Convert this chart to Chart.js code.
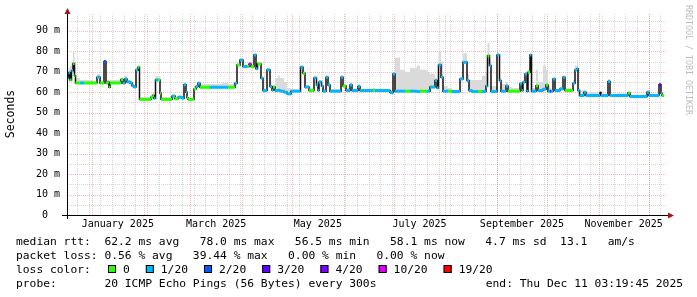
<!DOCTYPE html>
<html>
<head>
<meta charset="utf-8">
<script src="https://cdn.jsdelivr.net/npm/chart.js@4"></script>
<style>
html, body { margin: 0; padding: 0; background: #fff; }
canvas { display: block; }
</style>
</head>
<body>
<canvas id="chart" width="697" height="297"></canvas>
<script>
// x values are days since the start of the graph (2024-12-17), 360 days shown
const START = Date.UTC(2024, 11, 17);
const SPAN_DAYS = 360;
const END_DAY = 358.2;

const sampleDays = [
  0, 0.9, 1.8, 2.7, 3.6, 4.5, 5.1, 7.8, 10.2, 15,
  18, 19.8, 22.2, 23.4, 24.6, 25.2, 25.8, 32.4, 33.6, 34.8,
  36, 37.8, 39, 40.2, 41.4, 42.6, 43.5, 50.4, 51.6, 52.2,
  53.1, 54.6, 55.8, 56.4, 63, 64.2, 64.8, 66.6, 69, 70.2,
  71.4, 72, 72.6, 76.2, 77.4, 78.6, 79.8, 85.8, 93, 96.6,
  100.8, 102, 103.8, 105.6, 108, 109.2, 110.4, 112.2, 113.4, 114.3,
  116.4, 117.6, 120, 121.8, 123, 123.6, 124.8, 126.6, 127.8, 130.2,
  132, 134.4, 140.1, 141.6, 142.8, 145.2, 148.2, 149.7, 150.6, 151.2,
  152.7, 153.6, 155.4, 156.6, 157.8, 164.4, 165.6, 167.4, 169.8, 171,
  174.6, 175.8, 183.6, 184.8, 193.8, 195.6, 196.8, 199.8, 202.8, 205.8,
  210, 211.8, 216, 217.8, 220.8, 222, 222.9, 224.4, 225.6, 228.6,
  231, 235.8, 237.6, 240, 241.2, 243, 246.6, 249, 251.4, 252.3,
  253.5, 254.4, 258, 259.5, 260.4, 263.4, 264.6, 267, 271.8, 273,
  273.6, 274.8, 276, 276.6, 277.8, 278.7, 281.4, 282.6, 285.6, 287.4,
  288.6, 289.8, 290.4, 291.6, 292.8, 295.8, 297.6, 298.8, 303.6, 304.8,
  306, 306.6, 307.5, 310.2, 311.4, 319.8, 320.4, 324.6, 325.8, 330,
  336.6, 337.8, 348, 349.2, 355.2, 356.4, 357
];

// median rtt in ms
const medianMs = [
  67, 69.5, 66, 70.5, 74, 68, 64.5, 64.5, 64.5, 64.5,
  67.3, 64.5, 75, 64.5, 65, 62.4, 64.5, 66.2, 64.5, 66.5,
  65, 64.5, 63.2, 62.5, 70.9, 72.2, 56.5, 57.5, 58.4, 57,
  66, 66, 59.5, 56.5, 58, 58.2, 56.8, 57.5, 57, 63.7,
  60, 57.3, 56.5, 61.6, 62.8, 64.4, 62.4, 62.4, 62.4, 62.4,
  64.4, 73.3, 75.7, 72.5, 72.5, 73.8, 72.5, 78.2, 71.4, 73.8,
  66.8, 60.8, 70.9, 62.8, 61, 62.5, 60.8, 61, 60.5, 60,
  59.2, 60.5, 72.2, 69.2, 62.5, 60.8, 67, 63.5, 60.8, 65,
  63, 60.5, 67.3, 63.5, 60.5, 67.3, 63, 60.8, 63.5, 60.8,
  62.8, 60.8, 61, 60.8, 59.8, 68.9, 60.5, 60.5, 60.5, 60.5,
  60.3, 60.5, 60.5, 62.5, 65.7, 62, 73.3, 67.3, 60.5, 60.5,
  60.3, 66.5, 74.6, 65.7, 60.8, 60.3, 60.3, 60.3, 63, 77.8,
  73, 60.3, 78.2, 65.7, 60.5, 63, 60.5, 60.5, 64.1, 60.8,
  64.9, 68.9, 60.5, 69.7, 78.2, 60.5, 63.2, 60.8, 61.5, 63.5,
  60.5, 60.5, 60.5, 66.5, 60.8, 61.6, 67.3, 60.8, 64.4, 70.9,
  71.5, 60.8, 58.4, 60, 58.4, 59.8, 58.4, 65.2, 58.4, 58.4,
  59.6, 57.9, 60, 58.4, 63.7, 59.5, 58.4
];

// top of the smoke (slowest pings) in ms
const smokeMaxMs = [
  70, 72, 73, 74, 80, 72, 67, 66, 66, 65.5,
  69, 65.5, 75.5, 66, 66, 63, 66, 67, 65.5, 68,
  66, 65.5, 64, 63.5, 72, 73, 57.5, 59, 59.5, 58,
  68, 67.5, 60.5, 57.5, 59, 59.5, 57.5, 58.5, 58, 64.5,
  61, 58, 57, 62.5, 63.5, 65, 64, 64, 64.5, 64,
  65, 74, 76.5, 73, 73, 74.5, 73, 78.5, 72, 74.5,
  67.5, 61.5, 72, 63.5, 62, 63, 67, 68, 67, 65,
  62, 61.5, 73, 70, 63.5, 61.5, 67.5, 64, 61.5, 66,
  64, 61.5, 68, 64.5, 61.5, 68, 64, 62, 65, 61.5,
  64, 61.5, 62, 61.5, 61, 70, 77, 71, 70, 72,
  73, 71, 70, 69, 67, 66, 80, 75, 63, 62,
  61, 67, 79, 69, 66, 66, 66, 68, 70, 84,
  76, 63, 78.5, 67, 64, 65, 62.5, 62, 65, 61.5,
  66, 70, 61.5, 70.5, 78.5, 62, 71, 65, 73, 71,
  63, 62, 61.5, 67, 61.5, 62.5, 68, 62, 66, 73,
  75.5, 62, 61, 61, 60, 60.5, 59, 66.5, 59, 59.5,
  60.5, 58.5, 61, 59, 64.5, 60, 59
];

// index into lossLabels / lossColors
const lossLevel = [
  1, 1, 0, 1, 0, 0, 0, 1, 0, 0,
  1, 0, 2, 0, 0, 0, 0, 0, 1, 1,
  1, 1, 1, 1, 1, 0, 0, 0, 0, 1,
  1, 0, 0, 0, 1, 0, 0, 1, 1, 1,
  1, 0, 0, 0, 1, 1, 0, 1, 1, 0,
  1, 0, 1, 1, 0, 5, 0, 1, 1, 0,
  1, 1, 1, 1, 1, 0, 1, 1, 1, 1,
  1, 1, 1, 0, 1, 0, 1, 1, 1, 1,
  1, 1, 1, 1, 1, 1, 0, 1, 1, 1,
  1, 1, 0, 1, 1, 1, 1, 1, 0, 1,
  1, 0, 1, 1, 1, 1, 1, 1, 1, 0,
  1, 1, 1, 1, 1, 1, 0, 1, 1, 0,
  1, 1, 1, 1, 1, 1, 0, 0, 1, 1,
  1, 1, 1, 0, 1, 1, 0, 1, 1, 0,
  1, 3, 1, 1, 1, 1, 1, 0, 1, 1,
  1, 1, 1, 1, 1, 0, 1, 1, 1, 1,
  0, 1, 1, 1, 3, 1, 0
];

const lossLabels = ['0', '1/20', '2/20', '3/20', '4/20', '10/20', '19/20'];
const lossColors = ['#26ff00', '#00b8ff', '#0059ff', '#5e00ff', '#7e00ff', '#dd00ff', '#ff0000'];

const yTickValues = [0, 10, 20, 30, 40, 50, 60, 70, 80, 90];
const yTickLabels = ['0  ', '10 m', '20 m', '30 m', '40 m', '50 m', '60 m', '70 m', '80 m', '90 m'];
const monthLabels = ['January 2025', 'March 2025', 'May 2025', 'July 2025', 'September 2025', 'November 2025'];
const labelMonths = [0, 2, 4, 6, 8, 10];

const statsLines = [
  'median rtt:  62.2 ms avg   78.0 ms max   56.5 ms min   58.1 ms now   4.7 ms sd  13.1   am/s',
  'packet loss: 0.56 % avg   39.44 % max   0.00 % min   0.00 % now'
];
const probeText = 'probe:       20 ICMP Echo Pings (56 Bytes) every 300s';
const endText = 'end: Thu Dec 11 03:19:45 2025';

const MONO = 'DejaVu Sans Mono';
const dayOf = (y, m, d) => (Date.UTC(y, m, d) - START) / 864e5;

// step lines: each sample holds until the next one
const stepPts = (vals) => sampleDays.map((d, i) => ({ x: d, y: vals[i] }))
  .concat([{ x: END_DAY, y: vals[vals.length - 1] }]);

// colored median pieces, one horizontal piece per sample
const colorPts = [];
const colorIdx = [];
sampleDays.forEach((d, i) => {
  const next = i + 1 < sampleDays.length ? sampleDays[i + 1] : END_DAY;
  colorPts.push({ x: d, y: medianMs[i] }, { x: next, y: medianMs[i] }, { x: next, y: null });
  colorIdx.push(lossLevel[i], lossLevel[i], lossLevel[i]);
});

const gridPlugin = {
  id: 'rrdGrid',
  beforeDatasetsDraw(chart) {
    const { ctx, chartArea: a, scales: { x, y } } = chart;
    ctx.save();
    ctx.lineWidth = 1;
    ctx.setLineDash([1, 1]);
    const vline = (d, color) => {
      const px = Math.round(x.getPixelForValue(d)) + 0.5;
      ctx.strokeStyle = color;
      ctx.beginPath(); ctx.moveTo(px, a.bottom); ctx.lineTo(px, a.top); ctx.stroke();
    };
    const hline = (v, color) => {
      const py = Math.round(y.getPixelForValue(v)) + 0.5;
      ctx.strokeStyle = color;
      ctx.beginPath(); ctx.moveTo(a.left, py); ctx.lineTo(a.right, py); ctx.stroke();
    };
    const minor = 'rgba(150,150,150,0.38)';
    const major = 'rgba(235,70,70,0.38)';
    // weekly lines (mondays)
    for (let d = dayOf(2024, 11, 23); d < SPAN_DAYS; d += 7) vline(d, minor);
    for (let v = 5; v < 98; v += 10) hline(v, minor);
    for (let m = 0; m < 12; m++) vline(dayOf(2025, m, 1), major);
    yTickValues.slice(1).forEach(v => hline(v, major));
    ctx.restore();
  }
};

const framePlugin = {
  id: 'rrdFrame',
  afterDraw(chart) {
    const { ctx, chartArea: a } = chart;
    const bx = a.left + 0.5, by = a.bottom + 0.5;
    ctx.save();
    ctx.strokeStyle = '#000';
    ctx.lineWidth = 1;
    ctx.beginPath();
    ctx.moveTo(a.left - 5, by); ctx.lineTo(a.right + 1, by);
    ctx.moveTo(bx, a.bottom + 4); ctx.lineTo(bx, a.top);
    ctx.stroke();
    ctx.fillStyle = '#a01818';
    ctx.beginPath();
    ctx.moveTo(a.right + 7, by); ctx.lineTo(a.right + 1, by - 3); ctx.lineTo(a.right + 1, by + 3);
    ctx.closePath(); ctx.fill();
    ctx.beginPath();
    ctx.moveTo(bx, a.top - 5); ctx.lineTo(bx - 3, a.top + 1); ctx.lineTo(bx + 3, a.top + 1);
    ctx.closePath(); ctx.fill();

    // watermark
    ctx.save();
    ctx.translate(688.5, 5);
    ctx.rotate(Math.PI / 2);
    ctx.font = '8.3px "' + MONO + '"';
    ctx.fillStyle = '#bdbdbd';
    ctx.textBaseline = 'middle';
    ctx.fillText('RRDTOOL / TOBI OETIKER', 0, 0);
    ctx.restore();

    // legend block
    ctx.font = '11.3px "' + MONO + '"';
    ctx.fillStyle = '#000';
    ctx.textBaseline = 'alphabetic';
    ctx.fillText(statsLines[0], 16, 245);
    ctx.fillText(statsLines[1], 16, 259);
    ctx.fillText('loss color:', 16, 273);
    let lx = 108;
    lossLabels.forEach((lab, i) => {
      ctx.fillStyle = lossColors[i];
      ctx.fillRect(lx, 265, 8, 8);
      ctx.strokeStyle = '#000';
      ctx.strokeRect(lx + 0.5, 265.5, 7, 7);
      ctx.fillStyle = '#000';
      ctx.fillText(lab, lx + 15, 273);
      lx += 15 + ctx.measureText(lab).width + 16;
    });
    ctx.fillText(probeText, 16, 287);
    ctx.textAlign = 'right';
    ctx.fillText(endText, 683, 287);
    ctx.restore();
  }
};

Chart.defaults.font.family = MONO;
Chart.defaults.color = '#000';

new Chart(document.getElementById('chart'), {
  type: 'line',
  data: {
    datasets: [
      {
        label: 'median loss color',
        data: colorPts,
        borderWidth: 3,
        borderCapStyle: 'butt',
        pointRadius: 0,
        spanGaps: false,
        segment: { borderColor: ctx => lossColors[colorIdx[ctx.p0DataIndex]] }
      },
      {
        label: 'median',
        data: stepPts(medianMs),
        stepped: true,
        borderColor: '#111',
        borderWidth: 1.5,
        pointRadius: 0
      },
      {
        label: 'smoke',
        data: stepPts(smokeMaxMs),
        stepped: true,
        borderWidth: 0,
        borderColor: 'rgba(0,0,0,0)',
        backgroundColor: '#dadada',
        fill: 1,
        pointRadius: 0
      }
    ]
  },
  options: {
    responsive: false,
    devicePixelRatio: 1,
    animation: false,
    layout: { padding: { top: 12, right: 30, left: 0, bottom: 0 } },
    plugins: { legend: { display: false }, tooltip: { enabled: false } },
    scales: {
      x: {
        type: 'linear',
        min: 0,
        max: SPAN_DAYS,
        grid: { display: false, drawTicks: false },
        border: { display: false },
        afterFit: s => { s.height = 82; },
        afterBuildTicks: s => {
          s.ticks = labelMonths.map(m => ({ value: (dayOf(2025, m, 1) + dayOf(2025, m + 1, 1)) / 2 }));
        },
        ticks: {
          padding: 3,
          maxRotation: 0,
          autoSkip: false,
          font: { size: 10 },
          color: '#000',
          callback: (v, i) => monthLabels[i]
        }
      },
      y: {
        min: 0,
        max: 98.7,
        grid: { display: false, drawTicks: false },
        border: { display: false },
        afterFit: s => { s.width = 67; },
        afterBuildTicks: s => { s.ticks = yTickValues.map(v => ({ value: v })); },
        ticks: {
          padding: 7,
          autoSkip: false,
          font: { size: 10 },
          color: '#000',
          callback: (v, i) => yTickLabels[i]
        },
        title: {
          display: true,
          text: 'Seconds',
          font: { size: 11.5 },
          color: '#000',
          padding: { top: 4, bottom: 0 }
        }
      }
    }
  },
  plugins: [gridPlugin, framePlugin]
});
</script>
</body>
</html>
